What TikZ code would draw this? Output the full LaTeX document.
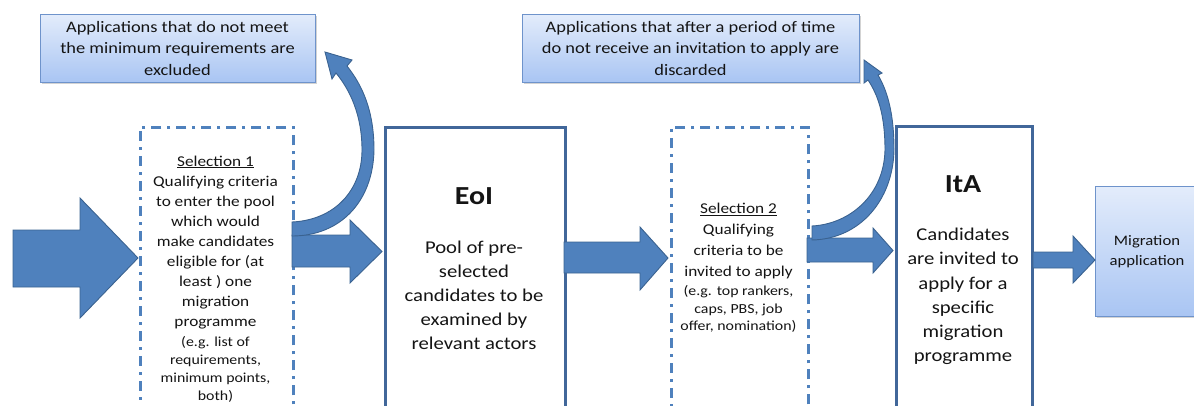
\documentclass[tikz,border=0pt]{standalone}
\usepackage{fontspec}
\setmainfont{Carlito}[FakeStretch=1.15]
\usetikzlibrary{shadows}
\definecolor{arrfill}{HTML}{4F81BD}
\definecolor{arrline}{HTML}{3A6290}
\definecolor{boxline}{HTML}{41679A}
\definecolor{dashline}{HTML}{4F81BD}
\definecolor{gradtop}{HTML}{E3ECFB}
\definecolor{gradbot}{HTML}{A9C5F3}
\definecolor{noteline}{HTML}{6E93CB}
\definecolor{txtcol}{HTML}{141414}
\begin{document}
\begin{tikzpicture}[x=1pt,y=-1pt,
  stagebox/.style={draw=boxline,line width=2.8pt,inner sep=0pt,anchor=north west},
  selbox/.style={draw=dashline,line width=2.8pt,dash pattern=on 10pt off 6pt on 3pt off 6pt,inner sep=0pt,anchor=north west},
  notebox/.style={draw=noteline,line width=0.9pt,top color=gradtop,bottom color=gradbot,
    drop shadow={opacity=0.35,shadow xshift=2pt,shadow yshift=-2pt},
    text=txtcol,align=center,inner sep=0pt},
  blockarrow/.style={fill=arrfill,draw=arrline,line width=0.9pt,line join=miter},
  txt/.style={text=txtcol,align=center,inner sep=0pt}
]
\useasboundingbox (0,0) rectangle (1194,405);
\path[clip] (0,0) rectangle (1194,405);

% note boxes
\node[notebox,minimum width=275pt,minimum height=68pt,font=\fontsize{16}{21.5}\selectfont] (top1) at (177.5,48)
  {Applications that do not meet\\the minimum requirements are\\excluded};
\node[notebox,minimum width=337pt,minimum height=68pt,font=\fontsize{16}{21.5}\selectfont] (top2) at (690.5,48)
  {Applications that after a period of time\\do not receive an invitation to apply are\\discarded};

% stage boxes
\node[selbox,minimum width=153pt,minimum height=290pt] (sel1) at (139,126) {};
\node[stagebox,minimum width=180pt,minimum height=290pt] (eoi) at (384,126) {};
\node[selbox,minimum width=137pt,minimum height=290pt] (sel2) at (670,126) {};
\node[stagebox,minimum width=136pt,minimum height=290pt] (ita) at (895,125) {};
\node[notebox,anchor=north west,minimum width=105pt,minimum height=130pt,font=\fontsize{14.5}{20}\selectfont] (mig) at (1095,186) {};
\node[txt,font=\fontsize{14.5}{20}\selectfont] (migtext) at (1147,252) {Migration\\application};

% texts
\node[txt,font=\fontsize{15}{20.1}\selectfont] (sel1text) at (215.5,242.5)
  {\underline{Selection 1}\\Qualifying criteria\\to enter the pool\\which would\\make candidates\\eligible for (at\\least ) one\\migration\\programme};
\node[txt,font=\fontsize{13.8}{18}\selectfont] (sel1small) at (215.5,369)
  {(e.g. list of\\requirements,\\minimum points,\\both)};
\node[txt,font=\fontsize{26}{30}\selectfont\bfseries] (eoititle) at (474,196) {EoI};
\node[txt,font=\fontsize{18}{24}\selectfont] (eoitext) at (474,295)
  {Pool of pre-\\selected\\candidates to be\\examined by\\relevant actors};
\node[txt,font=\fontsize{15}{20.7}\selectfont] (sel2text) at (738.5,241)
  {\underline{Selection 2}\\Qualifying\\criteria to be\\invited to apply};
\node[txt,font=\fontsize{13.8}{17.5}\selectfont] (sel2small) at (738.5,309)
  {(e.g. top rankers,\\caps, PBS, job\\offer, nomination)};
\node[txt,font=\fontsize{26}{30}\selectfont\bfseries] (itatitle) at (963,184) {ItA};
\node[txt,font=\fontsize{18}{24.2}\selectfont] (itatext) at (963,296.5)
  {Candidates\\are invited to\\apply for a\\specific\\migration\\programme};

% straight block arrows
\draw[blockarrow] (13,230) -- (80,230) -- (80,198) -- (138,258) -- (80,318) -- (80,287) -- (13,287) -- cycle;
\draw[blockarrow] (292,235) -- (350,235) -- (350,220) -- (382,251.5) -- (350,283) -- (350,267) -- (292,267) -- cycle;
\draw[blockarrow] (564,242) -- (640,242) -- (640,227) -- (668,258) -- (640,290) -- (640,273) -- (564,273) -- cycle;
\draw[blockarrow] (807,238) -- (873,238) -- (873,228) -- (893,250.5) -- (873,273) -- (873,262) -- (807,262) -- cycle;
\draw[blockarrow] (1033,252) -- (1073,252) -- (1073,236) -- (1095,260) -- (1073,283) -- (1073,268) -- (1033,268) -- cycle;

% curved arrows
\draw[blockarrow] (292,222) .. controls (335,220) and (362,190) .. (362,150)
  .. controls (362,115) and (350,90) .. (336,73) -- (332,79) -- (325,52) -- (352,60) -- (347,66)
  .. controls (362,85) and (374,110) .. (374,150)
  .. controls (373,202) and (340,236) .. (292,236) -- cycle;
\draw[blockarrow] (812,226) .. controls (850,224) and (884,195) .. (885,150)
  .. controls (885,115) and (878,95) .. (868,80) -- (864,83) -- (864,60) -- (882,73) -- (878,75)
  .. controls (888,92) and (894,115) .. (894,150)
  .. controls (893,200) and (860,239) .. (812,240) -- cycle;
\end{tikzpicture}
\end{document}
